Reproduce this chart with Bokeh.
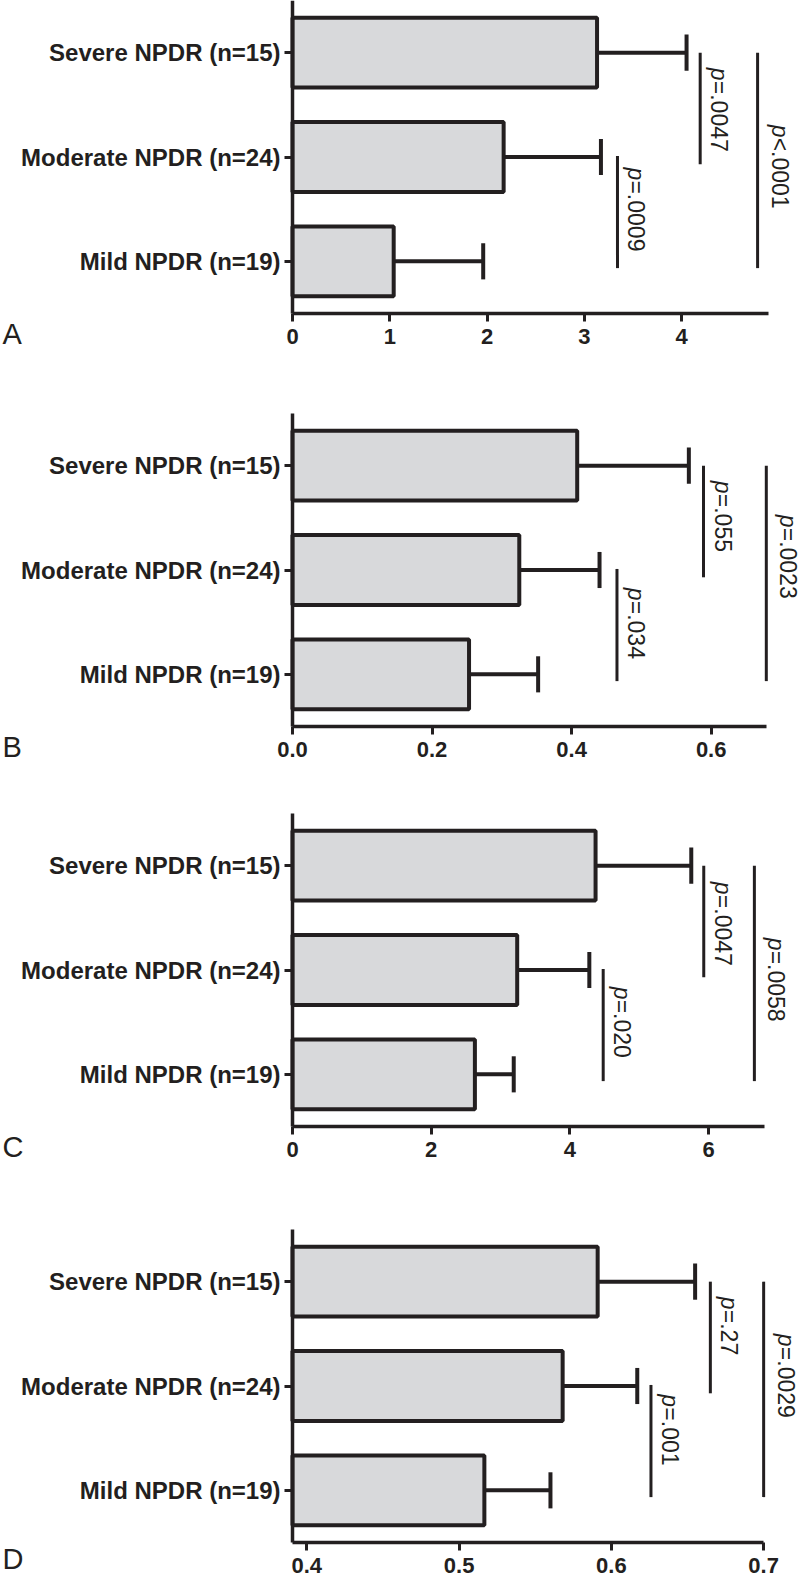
import math
from bokeh.plotting import figure
from bokeh.layouts import column
from bokeh.models import FixedTicker, Range1d
from bokeh.core.properties import value
from bokeh.embed import file_html
from bokeh.resources import INLINE

# ---------------- data ----------------
categories = ["Mild NPDR (n=19)", "Moderate NPDR (n=24)", "Severe NPDR (n=15)"]
cat_pos = [1, 2, 3]

# comparisons: Severe vs Moderate, Moderate vs Mild, Severe vs Mild
cmp_top = [3.0, 2.01, 3.0]
cmp_bottom = [1.93, 0.935, 0.935]

# Panel A
a_mean = [1.04, 2.17, 3.13]
a_sd = [0.92, 1.00, 0.92]
a_ticks = [0, 1, 2, 3, 4]
a_tick_labels = ["0", "1", "2", "3", "4"]
a_p_x = [4.19, 3.34, 4.78]
a_p_text = ["=.0047", "=.0009", "<.0001"]
a_p_label_y = [2.855, 1.90, 2.31]

# Panel B
b_mean = [0.253, 0.325, 0.408]
b_sd = [0.099, 0.115, 0.160]
b_ticks = [0.0, 0.2, 0.4, 0.6]
b_tick_labels = ["0.0", "0.2", "0.4", "0.6"]
b_p_x = [0.589, 0.465, 0.679]
b_p_text = ["=.055", "=.034", "=.0023"]
b_p_label_y = [2.855, 1.83, 2.53]

# Panel C
c_mean = [2.63, 3.24, 4.37]
c_sd = [0.56, 1.04, 1.38]
c_ticks = [0, 2, 4, 6]
c_tick_labels = ["0", "2", "4", "6"]
c_p_x = [5.93, 4.48, 6.66]
c_p_text = ["=.0047", "=.020", "=.0058"]
c_p_label_y = [2.845, 1.84, 2.31]

# Panel D
d_mean = [0.5166, 0.568, 0.591]
d_sd = [0.0434, 0.049, 0.064]
d_ticks = [0.4, 0.5, 0.6, 0.7]
d_tick_labels = ["0.4", "0.5", "0.6", "0.7"]
d_p_x = [0.665, 0.626, 0.700]
d_p_text = ["=.27", "=.001", "=.0029"]
d_p_label_y = [2.855, 1.92, 2.50]

# ---------------- style ----------------
INK = "#231f20"
FILL = "#d8d9db"
FONT = value("Liberation Sans")
LEFT = 292      # px from the page edge to the value axis origin
FRAME_W = 508   # px from the origin to the right page edge
FRAME_H = 313   # px spanned by the three category slots


def panel(letter, means, sds, x_start, x_end, axis_end, ticks, tick_labels,
          p_x, p_text, p_label_y, height, top, bottom, letter_dy=20, full_axis=False):
    ppx = (x_end - x_start) / FRAME_W
    ppy = 3.0 / FRAME_H
    x_lo = x_start - LEFT * ppx
    y_lo = 0.5 - bottom * ppy
    y_hi = 3.5 + top * ppy
    p = figure(width=800, height=height, output_backend="svg", toolbar_location=None,
               x_range=Range1d(x_lo, x_end), y_range=Range1d(y_lo, y_hi),
               min_border=0)
    p.outline_line_color = None
    p.xgrid.visible = False
    p.ygrid.visible = False
    p.background_fill_color = "white"
    p.border_fill_color = "white"

    ends = [m + s for m, s in zip(means, sds)]

    # error bars
    p.segment(x0=means, y0=cat_pos, x1=ends, y1=cat_pos, line_color=INK, line_width=4)
    p.segment(x0=ends, y0=[c - 0.173 for c in cat_pos], x1=ends,
              y1=[c + 0.173 for c in cat_pos], line_color=INK, line_width=4)
    # bars
    p.hbar(y=cat_pos, left=x_start, right=means, height=0.67,
           fill_color=FILL, line_color=INK, line_width=4)

    # comparison lines and p values
    p.segment(x0=p_x, y0=cmp_top, x1=p_x, y1=cmp_bottom, line_color=INK, line_width=3)
    offs = [19, 19, 22]
    p.text(x=p_x, y=p_label_y, text=["p", "p", "p"], angle=-math.pi / 2,
           text_align="left", text_baseline="middle", x_offset=offs,
           text_font=FONT, text_font_size="23px", text_font_style="italic",
           text_color=INK)
    p.text(x=p_x, y=p_label_y, text=p_text, angle=-math.pi / 2,
           text_align="left", text_baseline="middle", x_offset=offs, y_offset=13,
           text_font=FONT, text_font_size="23px", text_color=INK)

    # panel letter
    p.text(x=[x_lo + 2 * ppx], y=[0.5 - letter_dy * ppy], text=[letter],
           text_align="left", text_baseline="middle",
           text_font=FONT, text_font_size="29px", text_color=INK)

    # x axis (value axis) drawn at the bottom of the category slots
    xa = p.xaxis[0]
    xa.fixed_location = 0.5
    xa.ticker = FixedTicker(ticks=ticks)
    xa.major_label_overrides = {t: l for t, l in zip(ticks, tick_labels)}
    xa.bounds = (x_start, axis_end)
    xa.minor_tick_line_color = None
    xa.major_tick_in = 0
    xa.major_tick_out = 8
    xa.major_tick_line_width = 3
    xa.major_tick_line_color = INK
    xa.axis_line_width = 3.5
    xa.axis_line_color = INK
    xa.major_label_standoff = 7
    xa.major_label_text_font = "Liberation Sans"
    xa.major_label_text_font_style = "bold"
    xa.major_label_text_font_size = "22px"
    xa.major_label_text_color = INK

    # y axis (categories) drawn at the value origin
    ya = p.yaxis[0]
    ya.fixed_location = x_start
    ya.ticker = FixedTicker(ticks=cat_pos)
    ya.major_label_overrides = {c: n for c, n in zip(cat_pos, categories)}
    ya.bounds = (0.5, y_hi if full_axis else 3.5)
    ya.minor_tick_line_color = None
    ya.major_tick_in = 0
    ya.major_tick_out = 8
    ya.major_tick_line_width = 3
    ya.major_tick_line_color = INK
    ya.axis_line_width = 3.5
    ya.axis_line_color = INK
    ya.major_label_standoff = 4
    ya.major_label_text_font = "Liberation Sans"
    ya.major_label_text_font_style = "bold"
    ya.major_label_text_font_size = "24px"
    ya.major_label_text_color = INK
    return p


pa = panel("A", a_mean, a_sd, 0, 5.221, 4.89, a_ticks, a_tick_labels,
           a_p_x, a_p_text, a_p_label_y, 370, 0, 57, full_axis=True)
pb = panel("B", b_mean, b_sd, 0, 0.728, 0.679, b_ticks, b_tick_labels,
           b_p_x, b_p_text, b_p_label_y, 400, 43, 44)
pc = panel("C", c_mean, c_sd, 0, 7.325, 6.81, c_ticks, c_tick_labels,
           c_p_x, c_p_text, c_p_label_y, 400, 43, 44)
pd_ = panel("D", d_mean, d_sd, 0.3906, 0.7242, 0.700, d_ticks, d_tick_labels,
            d_p_x, d_p_text, d_p_label_y, 406, 59, 34, letter_dy=16)

layout = column(pa, pb, pc, pd_, spacing=0)
open("out.html", "w").write(file_html(layout, INLINE))
